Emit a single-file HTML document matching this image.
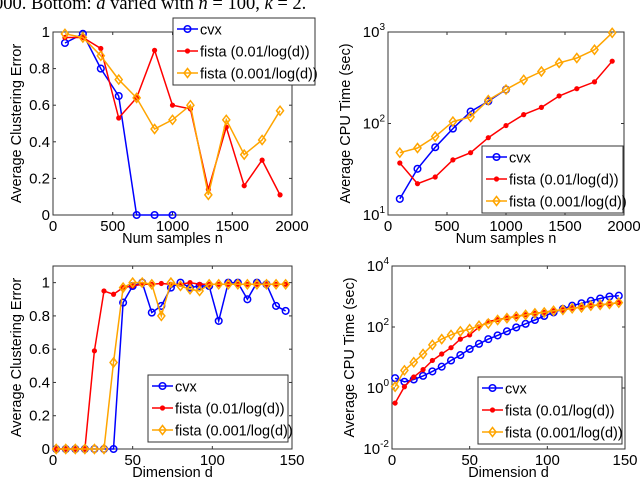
<!DOCTYPE html>
<html><head><meta charset="utf-8"><style>
body{margin:0;background:#fff;}
svg{display:block;font-family:"Liberation Sans",Arial,sans-serif;}
</style></head><body>
<svg id="fig" width="640" height="478" viewBox="0 0 640 478" xmlns="http://www.w3.org/2000/svg">
<text x="-6" y="9" font-family="Liberation Serif, serif" font-size="18.5" fill="#000">000.  Bottom: <tspan font-style="italic">d</tspan> varied with <tspan font-style="italic">n</tspan> = 100, <tspan font-style="italic">k</tspan> = 2.</text>
</svg>
<script>
const nSamples=[100,250,400,550,700,850,1000,1150,1300,1450,1600,1750,1900];
const errCvxN=[0.94,0.99,0.80,0.65,0,0,0];
const errFista1N=[0.97,0.97,0.91,0.53,0.64,0.90,0.60,0.58,0.14,0.48,0.16,0.30,0.11];
const errFista2N=[0.99,0.97,0.87,0.74,0.64,0.47,0.52,0.60,0.11,0.52,0.33,0.41,0.57];
const timeCvxN=[15,32,55,88,135,175,235];
const timeFista1N=[37,22,26,40,48,70,95,125,150,200,240,285,480];
const timeFista2N=[48,54,72,105,118,180,235,300,370,460,520,640,980];
const dims=[2,8,14,20,26,32,38,44,50,56,62,68,74,80,86,92,98,104,110,116,122,128,134,140,146];
const errCvxD=[0,0,0,0,0,0,0,0.88,0.98,1.0,0.82,0.86,0.97,1.0,0.97,0.98,0.98,0.77,1.0,1.0,0.90,1.0,0.99,0.86,0.83];
const errFista1D=[0,0,0,0,0.59,0.95,0.93,0.97,0.98,0.99,0.99,0.995,0.99,0.99,1.0,0.99,0.99,0.99,0.99,0.99,0.99,0.99,0.99,0.99,0.99];
const errFista2D=[0,0,0,0,0,0,0.52,0.97,1.0,1.0,0.99,0.80,1.0,0.98,0.96,0.95,0.99,0.99,0.99,0.99,0.99,0.99,0.99,0.99,0.99];
const timeCvxD=[2.1,1.6,1.9,2.5,3.5,5,8,12,19,28,40,53,72,97,127,170,230,300,390,500,600,720,860,1000,1060];
const timeFista1D=[0.32,1.1,2.3,4,8,13,21,40,55,100,150,175,198,222,252,282,302,342,368,412,442,502,532,572,632];
const timeFista2D=[1.1,3.8,7,13,26,40,55,72,85,110,130,170,195,220,250,280,300,340,365,410,440,500,530,570,630];
const xTicksN=[0,500,1000,1500,2000];
const xTicksD=[0,50,100,150];
const yTicksErr1=[0,0.2,0.4,0.6,0.8,1];
const yTicksErr2=[0,0.2,0.4,0.6,0.8,1];
const yTicksTime1=[1,2,3];
const yTicksTime2=[-2,0,2,4];
const legendLabels=["cvx","fista (0.01/log(d))","fista (0.001/log(d))"];
const colors=["#0000ff","#ff0000","#ffa500"];

const svg=document.getElementById('fig');
const NS="http://www.w3.org/2000/svg";
function el(tag,attrs,parent){const e=document.createElementNS(NS,tag);for(const k in attrs)e.setAttribute(k,attrs[k]);(parent||svg).appendChild(e);return e;}

function panel(p){
  const g=el('g',{});
  
  
  const X=v=>p.L+(v-p.xmin)/(p.xmax-p.xmin)*(p.R-p.L);
  const Y=v=>{const t=p.log?Math.log10(v):v;return p.B-(t-p.ymin)/(p.ymax-p.ymin)*(p.B-p.T);};
  const box=el('rect',{x:p.L,y:p.T,width:p.R-p.L,height:p.B-p.T,fill:'#fff',stroke:'#333','stroke-width':1},g);
  
  
  p.xt.forEach(v=>{
    const x=X(v);
    el('line',{x1:x,x2:x,y1:p.B,y2:p.B-3,stroke:'#333'},g);
    el('line',{x1:x,x2:x,y1:p.T,y2:p.T+3,stroke:'#333'},g);
    const t=el('text',{x:x,y:p.B+16,'text-anchor':'middle','font-size':15},g);
    t.textContent=v;
    
    
  });
  p.yt.forEach(v=>{
    const y=p.B-(v-p.ymin)/(p.ymax-p.ymin)*(p.B-p.T);
    el('line',{x1:p.L,x2:p.L+3,y1:y,y2:y,stroke:'#333'},g);
    el('line',{x1:p.R,x2:p.R-3,y1:y,y2:y,stroke:'#333'},g);
    const t=el('text',{x:p.L-3,y:y+5,'text-anchor':'end','font-size':15},g);
    if(p.log){t.textContent='10';const s=el('tspan',{dy:-7,'font-size':10},t);s.textContent=v;}
    else t.textContent=v;
    
    
  });
  const xl=el('text',{x:(p.L+p.R)/2,y:p.B+28,'text-anchor':'middle','font-size':14.5},g);
  xl.textContent=p.xlabel;
  
  
  const yx=p.L-(p.log?38:32), yy=(p.T+p.B)/2;
  const yl=el('text',{x:yx,y:yy,'text-anchor':'middle','font-size':14.5,transform:`rotate(-90 ${yx} ${yy})`},g);
  yl.textContent=p.ylabel;
  
  
  p.series.forEach((s,i)=>{
    const c=colors[i];
    const pts=s.map((v,j)=>X(p.xs[j]).toFixed(1)+','+Y(v).toFixed(1)).join(' ');
    const pl=el('polyline',{points:pts,fill:'none',stroke:c,'stroke-width':1.5},g);
    
    
    s.forEach((v,j)=>{marker(g,i,X(p.xs[j]),Y(v));});
  });
  const lg=el('g',{},g);
  
  
  el('rect',{x:p.lx,y:p.ly,width:p.lw,height:67,fill:'#fff',stroke:'#333'},lg);
  legendLabels.forEach((lab,i)=>{
    const y=p.ly+11+i*22;
    el('line',{x1:p.lx+4,x2:p.lx+25,y1:y,y2:y,stroke:colors[i],'stroke-width':1.5},lg);
    marker(lg,i,p.lx+14.5,y);
    const t=el('text',{x:p.lx+27,y:y+5.5,'font-size':14.5},lg);
    t.textContent=lab;
    
    
  });
}
function marker(g,i,x,y){
  const c=colors[i];let m;
  if(i===0)m=el('circle',{cx:x,cy:y,r:3.3,fill:'none',stroke:c,'stroke-width':1.5},g);
  else if(i===1)m=el('circle',{cx:x,cy:y,r:2.6,fill:c},g);
  else m=el('polygon',{points:`${x},${y-4.5} ${x+3.5},${y} ${x},${y+4.5} ${x-3.5},${y}`,fill:'none',stroke:c,'stroke-width':1.5},g);
  
  
}
panel({name:'error-vs-samples-chart',L:53,R:292,T:32,B:215,xmin:0,xmax:2000,ymin:0,ymax:1,log:false,xt:xTicksN,yt:yTicksErr1,xs:nSamples,series:[errCvxN,errFista1N,errFista2N],xlabel:'Num samples n',ylabel:'Average Clustering Error',lx:173,ly:18,lw:142});
panel({name:'time-vs-samples-chart',L:388,R:624,T:32,B:215,xmin:0,xmax:2000,ymin:1,ymax:3,log:true,xt:xTicksN,yt:yTicksTime1,xs:nSamples,series:[timeCvxN,timeFista1N,timeFista2N],xlabel:'Num samples n',ylabel:'Average CPU Time (sec)',lx:482,ly:146,lw:141});
panel({name:'error-vs-dimension-chart',L:53,R:292,T:266,B:449,xmin:0,xmax:150,ymin:0,ymax:1.1,log:false,xt:xTicksD,yt:yTicksErr2,xs:dims,series:[errCvxD,errFista1D,errFista2D],xlabel:'Dimension d',ylabel:'Average Clustering Error',lx:148,ly:375,lw:140});
panel({name:'time-vs-dimension-chart',L:392,R:625,T:266,B:449,xmin:0,xmax:150,ymin:-2,ymax:4,log:true,xt:xTicksD,yt:yTicksTime2,xs:dims,series:[timeCvxD,timeFista1D,timeFista2D],xlabel:'Dimension d',ylabel:'Average CPU Time (sec)',lx:478,ly:377,lw:144});
</script>
</body></html>
